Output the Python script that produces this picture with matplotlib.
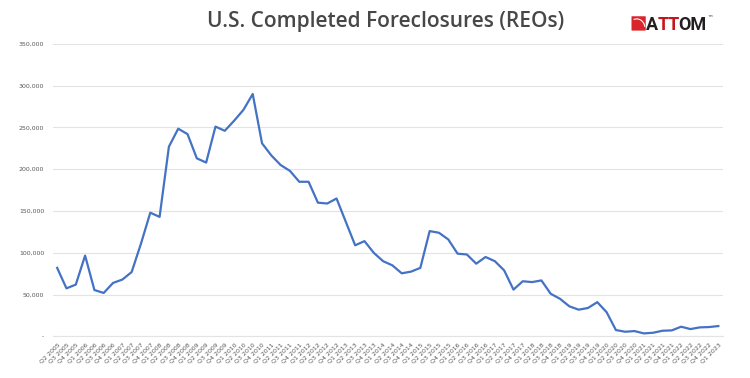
import matplotlib.pyplot as plt
from matplotlib.patches import FancyBboxPatch, Arc
from matplotlib.ticker import FuncFormatter

# quarterly labels Q2 2005 .. Q1 2023
quarters = []
for year in range(2005, 2024):
    for q in range(1, 5):
        if (year == 2005 and q == 1) or (year == 2023 and q > 1):
            continue
        quarters.append(f"Q{q} {year}")

reos = [
    82000, 57500, 62000, 96700, 55500, 52000, 64000, 68000, 77000, 111000,
    148000, 143000, 227000, 248500, 242000, 213000, 208000, 251000, 246000, 258000,
    271000, 290000, 231000, 216500, 205000, 198000, 185000, 185000, 160000, 159000,
    165000, 137000, 109000, 114000, 100000, 90000, 85000, 75500, 77500, 82000,
    126000, 124000, 116000, 99000, 98000, 87000, 95000, 90000, 79000, 56000,
    66000, 65000, 67000, 51000, 45000, 36000, 32000, 34000, 41000, 29000,
    7600, 5600, 6400, 3600, 4400, 6800, 7200, 11600, 8800, 10800,
    11200, 12400,
]

fig = plt.figure(figsize=(7.5, 3.78), dpi=100)
ax = fig.add_axes([0.070, 0.110, 0.894, 0.774])

x = range(len(quarters))
ax.plot(x, reos, color='#4472C4', linewidth=1.6, solid_joinstyle='round')

ax.set_xlim(-0.5, len(quarters) - 0.5)
ax.set_ylim(0, 350000)
ax.set_yticks(range(0, 350001, 50000))
ax.yaxis.set_major_formatter(FuncFormatter(lambda v, p: '-' if v == 0 else f'{int(v):,}'))
ax.set_xticks(list(x))
ax.set_xticklabels(quarters, rotation=45, ha='right', va='top', rotation_mode='anchor')

ax.grid(axis='y', color='#e3e3e3', linewidth=0.8)
ax.set_axisbelow(True)
for side in ['top', 'right', 'left']:
    ax.spines[side].set_visible(False)
ax.spines['bottom'].set_color('#e3e3e3')
ax.tick_params(axis='y', length=0, labelsize=4.5, labelcolor='#595959', pad=6)
ax.tick_params(axis='x', length=0, labelsize=4.5, labelcolor='#595959', pad=4)

fig.text(0.514, 0.942, 'U.S. Completed Foreclosures (REOs)', ha='center', va='center',
         fontsize=15, fontweight=600, color='#474747', family='Open Sans')

# ATTOM logo: red badge plus wordmark with red "TT"
fig.patches.append(FancyBboxPatch((0.843, 0.920), 0.017, 0.036, boxstyle='round,pad=0.001',
                                  transform=fig.transFigure, facecolor='#d9262c',
                                  edgecolor='none'))
fig.patches.append(Arc((0.849, 0.925), 0.022, 0.05, theta1=20, theta2=100,
                       transform=fig.transFigure, color='white', linewidth=0.8))

logo_style = dict(ha='left', va='baseline', fontsize=13, fontweight='bold', family='Roboto')
x0, base = 0.861, 0.920
fig.canvas.draw()
renderer = fig.canvas.get_renderer()


def text_width(s):
    t = fig.text(x0, base, s, color='none', **logo_style)
    w = t.get_window_extent(renderer).width / fig.bbox.width
    t.remove()
    return w


# offsets from width differences so the bbox padding cancels out
x_tt = x0 + text_width('ATT') - text_width('TT')
x_om = x0 + text_width('ATTOM') - text_width('OM') - 0.0025
fig.text(x0, base, 'A', color='#231f20', **logo_style)
fig.text(x_tt, base, 'TT', color='#c4161c', **logo_style)
fig.text(x_om, base, 'OM', color='#231f20', **logo_style)
fig.text(x0 + text_width('ATTOM') - 0.001, 0.958, '™', ha='left', va='top',
         fontsize=4, color='#231f20')

fig.savefig('out.png', dpi=100, facecolor='white')
